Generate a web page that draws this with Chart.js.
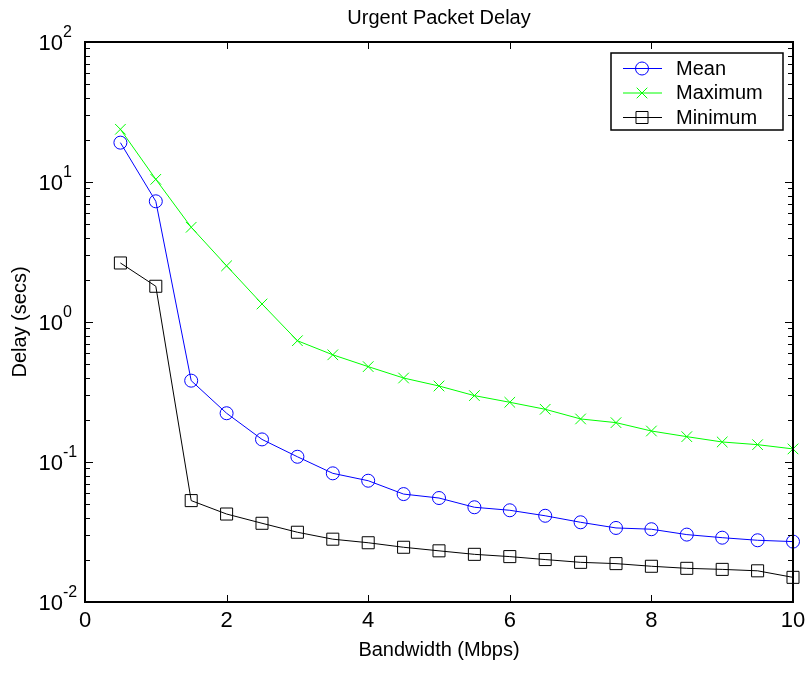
<!DOCTYPE html>
<html>
<head>
<meta charset="utf-8">
<style>
  html, body { margin: 0; padding: 0; background: #fff; }
  #wrap { width: 807px; height: 677px; }
</style>
<script src="https://cdn.jsdelivr.net/npm/chart.js@4/dist/chart.umd.min.js"></script>
</head>
<body>
<div id="wrap"><canvas id="c" width="807" height="677"></canvas></div>
<script>
const bandwidth = [0.5, 1, 1.5, 2, 2.5, 3, 3.5, 4, 4.5, 5, 5.5, 6, 6.5, 7, 7.5, 8, 8.5, 9, 9.5, 10];
const meanDelay = [19.1, 7.28, 0.381, 0.223, 0.145, 0.109, 0.083, 0.0735, 0.059, 0.0553, 0.0475, 0.0452, 0.0413, 0.0371, 0.0338, 0.0331, 0.0303, 0.0288, 0.0276, 0.027];
const maxDelay = [23.8, 10.45, 4.75, 2.52, 1.345, 0.735, 0.583, 0.48, 0.398, 0.349, 0.298, 0.267, 0.238, 0.203, 0.191, 0.1665, 0.1517, 0.139, 0.133, 0.124];
const minDelay = [2.64, 1.8, 0.053, 0.0425, 0.0365, 0.0315, 0.0281, 0.0265, 0.0246, 0.0232, 0.0219, 0.0211, 0.0201, 0.0192, 0.0188, 0.018, 0.0174, 0.0171, 0.0167, 0.015];
const seriesNames = ['Mean', 'Maximum', 'Minimum'];
const xTickValues = [0, 2, 4, 6, 8, 10];
const yTickExponents = [-2, -1, 0, 1, 2];
const chartTitle = 'Urgent Packet Delay';
const xAxisTitle = 'Bandwidth (Mbps)';
const yAxisTitle = 'Delay (secs)';

const FONT = '"Liberation Sans", Arial, Helvetica, sans-serif';

function toPoints(ys) { return bandwidth.map((x, i) => ({ x: x, y: ys[i] })); }

const frameTicks = {
  id: 'frameTicks',
  afterDatasetsDraw(chart) {
    const { ctx, chartArea: a, scales } = chart;
    const xs = scales.x, ys = scales.y;
    ctx.save();
    ctx.strokeStyle = '#000';
    ctx.lineWidth = 1;
    ctx.beginPath();
    xTickValues.forEach(v => {
      const px = Math.round(xs.getPixelForValue(v)) + 0.5;
      ctx.moveTo(px, a.bottom); ctx.lineTo(px, a.bottom - 7);
      ctx.moveTo(px, a.top); ctx.lineTo(px, a.top + 7);
    });
    const emin = Math.min(...yTickExponents), emax = Math.max(...yTickExponents);
    for (let e = emin; e < emax; e++) {
      for (let m = 1; m <= 9; m++) {
        const py = Math.round(ys.getPixelForValue(m * Math.pow(10, e))) + 0.5;
        const len = m === 1 ? 8 : 5;
        ctx.moveTo(a.left, py); ctx.lineTo(a.left + len, py);
        ctx.moveTo(a.right, py); ctx.lineTo(a.right - len, py);
      }
    }
    ctx.stroke();
    ctx.lineWidth = 2;
    ctx.strokeRect(a.left, a.top, a.right - a.left, a.bottom - a.top);
    ctx.restore();

    ctx.save();
    ctx.fillStyle = '#000';
    yTickExponents.forEach(e => {
      const py = ys.getPixelForValue(Math.pow(10, e));
      ctx.font = '22px ' + FONT;
      ctx.textAlign = 'right';
      ctx.textBaseline = 'alphabetic';
      ctx.fillText('10', 63, py + 8);
      ctx.font = '16px ' + FONT;
      ctx.textAlign = 'left';
      ctx.fillText(String(e), 63, py - 5);
    });
    ctx.restore();

    const lx = 611, ly = 53, lw = 172, lh = 77;
    ctx.save();
    ctx.fillStyle = '#fff';
    ctx.fillRect(lx, ly, lw, lh);
    ctx.strokeStyle = '#000';
    ctx.lineWidth = 1.5;
    ctx.strokeRect(lx, ly, lw, lh);
    chart.data.datasets.forEach((ds, i) => {
      const ry = ly + 15 + i * 24.5;
      ctx.strokeStyle = ds.borderColor;
      ctx.lineWidth = 1;
      ctx.beginPath();
      ctx.moveTo(623, ry + 0.5); ctx.lineTo(662, ry + 0.5);
      ctx.stroke();
      ctx.fillStyle = 'rgba(0,0,0,0)';
      ctx.strokeStyle = ds.borderColor;
      Chart.helpers.drawPoint(ctx, {
        pointStyle: ds.pointStyle, radius: ds.pointRadius, rotation: 0, borderWidth: 1
      }, 642, ry + 0.5);
      ctx.fillStyle = '#000';
      ctx.font = '20px ' + FONT;
      ctx.textAlign = 'left';
      ctx.textBaseline = 'middle';
      ctx.fillText(ds.label, 676, ry + 1);
    });
    ctx.restore();
  }
};

const colors = ['#0000ff', '#00ff00', '#000000'];
const styles = ['circle', 'crossRot', 'rect'];
const radii = [6.5, 7.5, 8.5];
const values = [meanDelay, maxDelay, minDelay];

new Chart(document.getElementById('c'), {
  type: 'line',
  data: {
    datasets: seriesNames.map((name, i) => ({
      label: name,
      data: toPoints(values[i]),
      borderColor: colors[i],
      backgroundColor: 'rgba(0,0,0,0)',
      borderWidth: 1,
      pointStyle: styles[i],
      pointRadius: radii[i],
      pointBorderWidth: 1,
      pointBorderColor: colors[i],
      pointBackgroundColor: 'rgba(0,0,0,0)',
      pointHoverRadius: radii[i],
      tension: 0,
      clip: false
    }))
  },
  options: {
    responsive: false,
    animation: false,
    devicePixelRatio: 1,
    layout: { padding: { left: 0, right: 14, top: 0, bottom: 0 } },
    plugins: {
      legend: { display: false },
      tooltip: { enabled: false },
      title: {
        display: true,
        text: chartTitle,
        fullSize: false,
        color: '#000',
        font: { family: FONT, size: 20, weight: 'normal', lineHeight: 1.2 },
        padding: { top: 6, bottom: 12 }
      }
    },
    scales: {
      x: {
        type: 'linear',
        min: 0, max: 10,
        grid: { display: false },
        border: { display: false },
        ticks: {
          stepSize: 2,
          color: '#000',
          padding: -2,
          maxRotation: 0,
          font: { family: FONT, size: 22 },
          callback: v => (xTickValues.includes(v) ? String(v) : '')
        },
        title: {
          display: true, text: xAxisTitle, color: '#000',
          font: { family: FONT, size: 20, lineHeight: 1.2 },
          padding: { top: 0, bottom: 15 }
        },
        afterFit: s => { s.height = 75; s.paddingLeft = 0; s.paddingRight = 0; }
      },
      y: {
        type: 'logarithmic',
        min: 0.01, max: 100,
        grid: { display: false },
        border: { display: false },
        ticks: { display: false },
        title: {
          display: true, text: yAxisTitle, color: '#000',
          font: { family: FONT, size: 20, lineHeight: 1.2 },
          padding: { top: 8, bottom: 0 }
        },
        afterFit: s => { s.width = 85; s.paddingTop = 0; s.paddingBottom = 0; }
      }
    }
  },
  plugins: [frameTicks]
});
</script>
</body>
</html>
